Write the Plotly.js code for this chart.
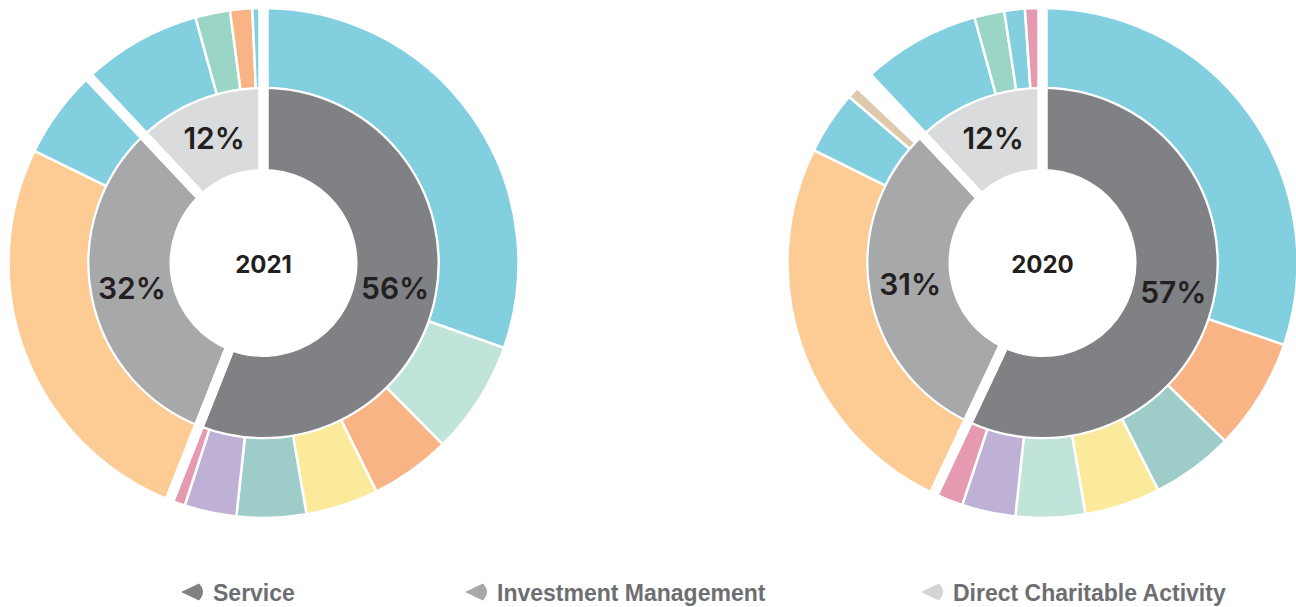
<!DOCTYPE html>
<html>
<head>
<meta charset="utf-8">
<script src="https://cdn.plot.ly/plotly-3.0.1.min.js"></script>
<style>
  html, body { margin: 0; padding: 0; background: #ffffff; overflow: hidden; }
  #chart { width: 1320px; height: 607px; }
</style>
</head>
<body>
<div id="chart"></div>
<script>
// ---------- DATA ----------
const groups = ['Service', 'Investment Management', 'Direct Charitable Activity'];
const years = ['2021', '2020'];

// inner ring: share of each group (%)
const share2021 = [56, 32, 12];
const share2020 = [57, 31, 12];

// outer ring: breakdown of each group, clockwise from 12 o'clock (% of total)
const outerGroup2021 = ['Service', 'Service', 'Service', 'Service', 'Service', 'Service', 'Service',
  'Investment Management', 'Investment Management',
  'Direct Charitable Activity', 'Direct Charitable Activity', 'Direct Charitable Activity', 'Direct Charitable Activity'];
const outer2021 = [30.4, 7.2, 5.1, 4.6, 4.4, 3.3, 1.0, 26.25, 5.75, 7.7, 2.2, 1.4, 0.7];

const outerGroup2020 = ['Service', 'Service', 'Service', 'Service', 'Service', 'Service', 'Service',
  'Investment Management', 'Investment Management', 'Investment Management', 'Investment Management',
  'Direct Charitable Activity', 'Direct Charitable Activity', 'Direct Charitable Activity', 'Direct Charitable Activity'];
const outer2020 = [30.2, 7.1, 5.2, 4.8, 4.4, 3.4, 1.9, 25.3, 4.0, 0.75, 0.95, 7.7, 1.9, 1.3, 1.1];

// ---------- STYLES ----------
const C = {
  blue: '#82cfdf', lightMint: '#c0e4d9', orange: '#f9b486', yellow: '#fbea9c',
  teal: '#9ecdc9', lavender: '#bfb0d5', pink: '#e59ab0', peach: '#fdcc94',
  mint: '#9bd5c6', tan: '#dfc9ad', white: '#ffffff'
};
const groupColors = ['#808184', '#a7a8aa', '#dadbdd'];
const legendIconColors = ['#808184', '#a7a8aa', '#d3d4d6'];
const outerColors2021 = [C.blue, C.lightMint, C.orange, C.yellow, C.teal, C.lavender, C.pink,
  C.peach, C.blue, C.blue, C.mint, C.orange, C.blue];
const outerColors2020 = [C.blue, C.orange, C.teal, C.yellow, C.lightMint, C.lavender, C.pink,
  C.peach, C.blue, C.tan, C.white, C.blue, C.mint, C.blue, C.pink];

// ---------- GEOMETRY (pixels) ----------
const W = 1320, H = 607;
const CY = 263, CX = [263.5, 1042.5];
const R_OUT = 255, R_MID = 175, R_HOLE = 93, R_GAP_OUT = 262, R_GAP_IN = 86;
function dom(cx, cy, r) {
  return { x: [(cx - r) / W, (cx + r) / W], y: [(H - cy - r) / H, (H - cy + r) / H] };
}
function subLabels(grp) {
  const count = {};
  return grp.map(g => { count[g] = (count[g] || 0) + 1; return g + ' – ' + count[g]; });
}

const datasets = [
  { year: years[0], share: share2021, outer: outer2021, outerGroup: outerGroup2021, outerColors: outerColors2021, cx: CX[0] },
  { year: years[1], share: share2020, outer: outer2020, outerGroup: outerGroup2020, outerColors: outerColors2020, cx: CX[1] }
];

const traces = [];
datasets.forEach(d => {
  // outer ring
  traces.push({
    type: 'pie', labels: subLabels(d.outerGroup), values: d.outer, sort: false,
    direction: 'clockwise', rotation: 0, hole: R_MID / R_OUT,
    domain: dom(d.cx, CY, R_OUT),
    marker: { colors: d.outerColors, line: { color: '#ffffff', width: 2.5 } },
    textinfo: 'none', showlegend: false, hoverinfo: 'label+value'
  });
  // inner ring
  traces.push({
    type: 'pie', labels: groups, values: d.share, sort: false,
    direction: 'clockwise', rotation: 0, hole: R_HOLE / R_MID,
    domain: dom(d.cx, CY, R_MID),
    marker: { colors: groupColors, line: { color: '#ffffff', width: 2 } },
    textinfo: 'percent', textposition: 'inside', insidetextorientation: 'horizontal',
    textfont: { family: 'Inter, "Liberation Sans", sans-serif', size: 30, weight: 600, color: '#231f20' },
    title: { text: d.year, position: 'middle center',
      font: { family: 'Inter, "Liberation Sans", sans-serif', size: 24, weight: 700, color: '#231f20' } },
    showlegend: false, hoverinfo: 'label+percent'
  });
  // group separators (thick white gaps between the three groups)
  traces.push({
    type: 'pie', labels: groups, values: d.share, sort: false,
    direction: 'clockwise', rotation: 0, hole: R_GAP_IN / R_GAP_OUT,
    domain: dom(d.cx, CY, R_GAP_OUT),
    marker: { colors: ['rgba(0,0,0,0)', 'rgba(0,0,0,0)', 'rgba(0,0,0,0)'], line: { color: '#ffffff', width: 10 } },
    textinfo: 'none', showlegend: false, hoverinfo: 'skip'
  });
});

// ---------- LEGEND (bottom) ----------
const legendIconX = [181, 465, 921];
const legendTextX = [211, 495, 951];
const legendY = 592;
const shapes = groups.map((g, i) => ({
  type: 'path', xref: 'paper', yref: 'paper', xsizemode: 'pixel', ysizemode: 'pixel',
  xanchor: legendIconX[i] / W, yanchor: (H - legendY) / H,
  path: 'M0,0 L18,8.5 Q26,0 18,-8.5 Z',
  fillcolor: legendIconColors[i], line: { width: 0 }
}));
const annotations = groups.map((g, i) => ({
  text: g, xref: 'paper', yref: 'paper', x: legendTextX[i] / W, y: (H - legendY - 1) / H,
  xanchor: 'left', yanchor: 'middle', showarrow: false,
  font: { family: '"Liberation Sans", Arial, sans-serif', size: 23, weight: 700, color: '#6d6e71' }
}));

const layout = {
  width: W, height: H,
  margin: { l: 0, r: 0, t: 0, b: 0, pad: 0 },
  paper_bgcolor: '#ffffff', plot_bgcolor: '#ffffff',
  showlegend: false,
  shapes: shapes, annotations: annotations
};

Plotly.newPlot('chart', traces, layout, { displayModeBar: false, staticPlot: true });
</script>
</body>
</html>
